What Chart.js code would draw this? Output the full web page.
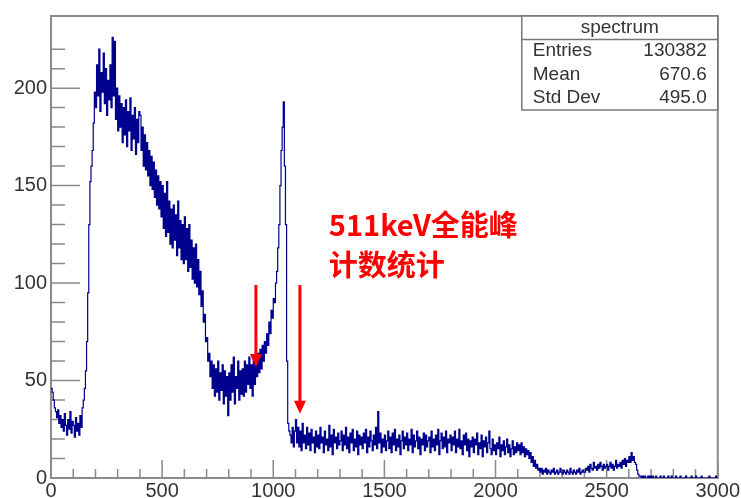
<!DOCTYPE html>
<html>
<head>
<meta charset="utf-8">
<script src="https://cdnjs.cloudflare.com/ajax/libs/Chart.js/4.4.0/chart.umd.min.js"></script>
<style>
  html, body { margin: 0; padding: 0; background: #fff; }
  #wrap { width: 741px; height: 498px; position: relative; }
</style>
</head>
<body>
<div id="wrap"><canvas id="spectrum"></canvas></div>
<script>
// histogram: 600 bins of width 5 over 0..3000 (one row = 100 units)
const binWidth = 5;
const counts = [
  46, 44, 40, 36, 34, 31, 35, 28, 32, 26, 30, 24, 33, 27, 22, 30, 25, 34, 23, 29,
  27, 21, 31, 24, 28, 22, 32, 26, 36, 40, 46, 55, 70, 95, 130, 152, 160, 168, 182, 198,
  190, 212, 196, 220, 188, 208, 198, 218, 192, 210, 186, 204, 194, 212, 190, 226, 196, 224, 184, 200,
  178, 196, 180, 192, 172, 190, 176, 194, 170, 188, 178, 195, 168, 186, 174, 190, 166, 184, 172, 188,
  186, 168, 180, 160, 176, 158, 172, 155, 168, 150, 165, 148, 162, 144, 158, 140, 155, 138, 152, 134,
  150, 128, 146, 124, 152, 126, 142, 120, 138, 118, 140, 122, 135, 114, 142, 118, 132, 112, 130, 110,
  134, 112, 128, 106, 130, 108, 122, 102, 118, 100, 120, 98, 112, 94, 106, 88, 96, 80, 84, 70,
  72, 60, 64, 52, 60, 46, 58, 42, 56, 44, 60, 40, 54, 45, 58, 38, 55, 42, 52, 32,
  54, 40, 58, 44, 62, 38, 52, 46, 60, 40, 55, 43, 56, 42, 60, 44, 58, 48, 62, 46,
  58, 42, 62, 48, 60, 52, 64, 54, 66, 56, 68, 60, 70, 64, 74, 68, 80, 74, 86, 82,
  92, 90, 100, 106, 118, 130, 150, 168, 180, 193, 160, 130, 60, 28, 24, 22, 18, 26, 16, 24,
  30, 18, 26, 16, 24, 14, 28, 18, 22, 15, 26, 17, 23, 14, 25, 18, 21, 13, 24, 16,
  22, 15, 26, 18, 21, 13, 24, 17, 20, 14, 27, 16, 22, 12, 25, 18, 21, 15, 23, 17,
  19, 24, 14, 22, 17, 26, 15, 21, 13, 23, 18, 25, 14, 20, 16, 24, 12, 22, 17, 21,
  15, 23, 18, 25, 13, 21, 16, 24, 19, 14, 22, 17, 26, 15, 34, 18, 23, 13, 20, 16,
  22, 14, 19, 24, 15, 21, 13, 23, 17, 25, 14, 20, 16, 22, 12, 19, 24, 15, 21, 17,
  23, 14, 20, 17, 25, 13, 22, 16, 19, 24, 15, 21, 12, 20, 17, 23, 14, 22, 16, 19,
  21, 13, 24, 16, 20, 14, 22, 17, 25, 12, 19, 23, 15, 21, 16, 24, 13, 20, 18, 22,
  14, 21, 17, 24, 13, 20, 16, 25, 15, 19, 12, 22, 17, 23, 14, 20, 11, 19, 16, 21,
  13, 20, 17, 23, 12, 18, 15, 22, 11, 19, 16, 21, 13, 18, 24, 15, 12, 20, 14, 17,
  12, 18, 15, 21, 11, 17, 14, 19, 12, 16, 20, 13, 17, 11, 15, 19, 12, 16, 13, 18,
  14, 17, 12, 18, 13, 16, 11, 15, 12, 14, 10, 13, 8, 11, 6, 9, 5, 7, 4, 5,
  3, 5, 2, 4, 3, 5, 2, 4, 3, 2, 4, 3, 5, 2, 3, 4, 2, 3, 5, 3,
  2, 4, 3, 2, 4, 3, 2, 5, 3, 2, 4, 3, 2, 4, 3, 5, 2, 3, 4, 3,
  3, 5, 4, 6, 3, 7, 5, 4, 8, 5, 6, 4, 7, 5, 8, 6, 4, 7, 5, 6,
  7, 4, 6, 8, 5, 7, 4, 6, 9, 5, 7, 6, 8, 5, 9, 7, 10, 6, 9, 8,
  11, 8, 13, 9, 11, 8, 7, 4, 2, 1, 1, 0, 1, 0, 1, 0, 0, 1, 0, 1,
  0, 1, 0, 0, 1, 0, 0, 0, 1, 0, 0, 1, 0, 0, 0, 1, 0, 0, 1, 0,
  0, 0, 1, 0, 0, 0, 1, 0, 0, 0, 0, 1, 0, 0, 0, 0, 1, 0, 0, 0,
  1, 0, 0, 0, 0, 1, 0, 0, 0, 0, 0, 0, 1, 0, 0, 0, 0, 0, 1, 0
];

const xRange = [0, 3000];
const yRange = [0, 237];
const xLabelStep = 500;
const yLabelStep = 50;

const statTitle = "spectrum";
const statNames = ["Entries", "Mean", "Std Dev"];
const statValues = ["130382", "670.6", "495.0"];

const noteLines = ["511keV全能峰", "计数统计"];
const noteAt = [1250, 130];
// arrows: [x, yStart, yEnd] in data units
const arrows = [
  [922, 99, 57],
  [1120, 99, 33]
];

const points = counts.map((c, i) => ({ x: i * binWidth, y: c }));
points.push({ x: counts.length * binWidth, y: counts[counts.length - 1] });

const axisGray = "#8a8a8a";
const textGray = "#333";

const rootFrame = {
  id: "rootFrame",
  beforeDatasetsDraw(chart) {
    const { ctx, chartArea: a, scales: { x, y } } = chart;
    ctx.save();
    ctx.strokeStyle = axisGray;
    ctx.lineWidth = 1.5;
    ctx.beginPath();
    x.ticks.forEach(t => {
      const px = x.getPixelForValue(t.value);
      const len = t.value % xLabelStep === 0 ? 18 : 9;
      ctx.moveTo(px, a.bottom);
      ctx.lineTo(px, a.bottom - len);
    });
    y.ticks.forEach(t => {
      const py = y.getPixelForValue(t.value);
      const len = t.value % yLabelStep === 0 ? 29 : 14;
      ctx.moveTo(a.left, py);
      ctx.lineTo(a.left + len, py);
    });
    ctx.stroke();
    ctx.lineWidth = 2;
    ctx.strokeRect(a.left, a.top, a.right - a.left, a.bottom - a.top);
    ctx.restore();
  },
  afterDraw(chart) {
    const { ctx, chartArea: a, scales: { x, y } } = chart;
    ctx.save();

    // stats box
    const bw = 196, bh = 94, rowH = 23.5;
    const bx = a.right - bw, by = a.top;
    ctx.fillStyle = "#fff";
    ctx.fillRect(bx, by, bw, bh);
    ctx.strokeStyle = "#777";
    ctx.lineWidth = 1.5;
    ctx.strokeRect(bx, by, bw, bh);
    ctx.beginPath();
    ctx.moveTo(bx, by + rowH);
    ctx.lineTo(bx + bw, by + rowH);
    ctx.stroke();
    ctx.fillStyle = textGray;
    ctx.font = "19px 'Liberation Sans', Arial, sans-serif";
    ctx.textBaseline = "middle";
    ctx.textAlign = "center";
    ctx.fillText(statTitle, bx + bw / 2, by + rowH / 2);
    statNames.forEach((n, i) => {
      const ty = by + rowH * (i + 1.5);
      ctx.textAlign = "left";
      ctx.fillText(n, bx + 11, ty);
      ctx.textAlign = "right";
      ctx.fillText(statValues[i], bx + bw - 11, ty);
    });

    // annotation text
    ctx.fillStyle = "#ff0000";
    ctx.font = "bold 29px 'Noto Sans CJK SC', sans-serif";
    ctx.textAlign = "left";
    noteLines.forEach((s, i) => {
      ctx.fillText(s, x.getPixelForValue(noteAt[0]), y.getPixelForValue(noteAt[1]) + i * 40);
    });

    // arrows
    ctx.strokeStyle = "#ff0000";
    ctx.lineWidth = 3;
    arrows.forEach(([ax, y0, y1]) => {
      const px = x.getPixelForValue(ax);
      const p0 = y.getPixelForValue(y0);
      const p1 = y.getPixelForValue(y1);
      ctx.beginPath();
      ctx.moveTo(px, p0);
      ctx.lineTo(px, p1 - 10);
      ctx.stroke();
      ctx.beginPath();
      ctx.moveTo(px - 6, p1 - 13);
      ctx.lineTo(px + 6, p1 - 13);
      ctx.lineTo(px, p1);
      ctx.closePath();
      ctx.fill();
    });
    ctx.restore();
  }
};

new Chart(document.getElementById("spectrum"), {
  type: "line",
  data: {
    datasets: [{
      data: points,
      stepped: true,
      borderColor: "#00008f",
      borderWidth: 1.2,
      pointRadius: 0,
      fill: false
    }]
  },
  options: {
    responsive: true,
    maintainAspectRatio: false,
    animation: false,
    layout: { padding: { left: 0, right: 23, top: 10, bottom: 0 } },
    plugins: { legend: { display: false }, tooltip: { enabled: false } },
    scales: {
      x: {
        type: "linear",
        min: xRange[0],
        max: xRange[1],
        grid: { display: false, drawTicks: false, tickLength: 0 },
        border: { display: false },
        afterFit(s) { s.height = 20; },
        ticks: {
          stepSize: 100,
          autoSkip: false,
          maxRotation: 0,
          padding: 1,
          color: textGray,
          font: { family: "'Liberation Sans', Arial, sans-serif", size: 20 },
          callback: v => (v % xLabelStep === 0 ? String(v) : "")
        }
      },
      y: {
        min: yRange[0],
        max: yRange[1],
        grid: { display: false, drawTicks: false, tickLength: 0 },
        border: { display: false },
        afterFit(s) { s.width = 51; },
        ticks: {
          stepSize: 10,
          autoSkip: false,
          padding: 4,
          color: textGray,
          font: { family: "'Liberation Sans', Arial, sans-serif", size: 20 },
          callback: v => (v % yLabelStep === 0 ? String(v) : "")
        }
      }
    }
  },
  plugins: [rootFrame]
});
</script>
</body>
</html>
